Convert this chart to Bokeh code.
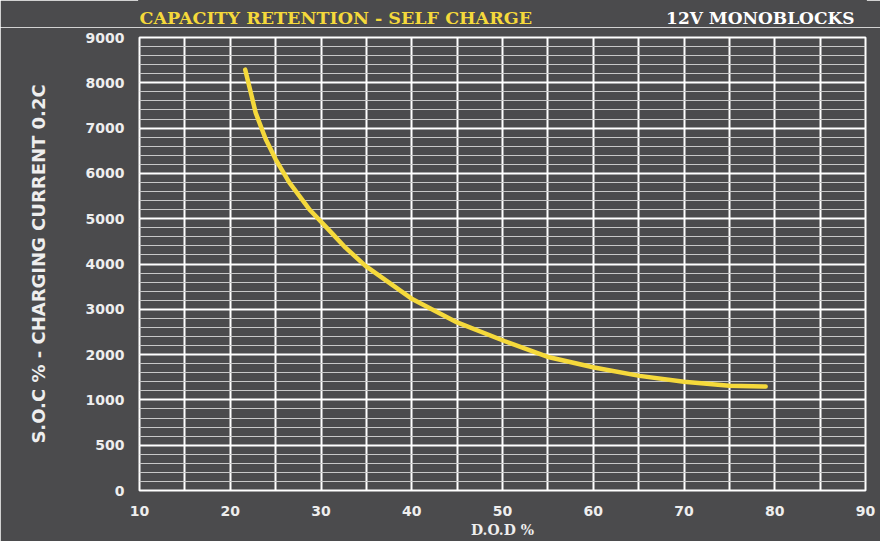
import numpy as np
from bokeh.plotting import figure
from bokeh.layouts import column
from bokeh.models import FixedTicker, Label
from bokeh.embed import file_html
from bokeh.resources import INLINE

# ---- data ----
x_ticks = [10, 20, 30, 40, 50, 60, 70, 80, 90]
x_grid = list(range(10, 91, 5))
y_tick_values = [0, 500, 1000, 2000, 3000, 4000, 5000, 6000, 7000, 8000, 9000]
y_tick_labels = ["0", "500", "1000", "2000", "3000", "4000", "5000", "6000", "7000", "8000", "9000"]

dod = [21.65, 22.8, 23.9, 25.0, 26.5, 28.7, 31.3, 32.7, 34.9, 37.5, 40.1,
       45.0, 50.2, 55.15, 60.1, 65.1, 70.0, 75.0, 79.0]
soc = [8290, 7340, 6760, 6310, 5800, 5210, 4660, 4360, 3960, 3590, 3220,
       2710, 2300, 1940, 1715, 1530, 1400, 1310, 1295]

title_left = "CAPACITY RETENTION - SELF CHARGE"
title_right = "12V MONOBLOCKS"
x_label = "D.O.D %"
y_label = "S.O.C % - CHARGING CURRENT 0.2C"

# ---- styling ----
BG = "#4b4b4d"
YELLOW = "#f5d93b"
TXT = "#eeeeee"
W = 880
HEAD_H = 27
BL, BR = 139, 15

# ---- header strip with the two titles (same horizontal frame as the chart) ----
header = figure(width=W, height=HEAD_H, output_backend="svg", toolbar_location=None,
                x_range=(10, 90), y_range=(0, HEAD_H),
                min_border_left=BL, min_border_right=BR, min_border_top=0, min_border_bottom=0,
                x_axis_location=None, y_axis_location=None)
header.background_fill_color = BG
header.border_fill_color = BG
header.outline_line_color = BG
header.outline_line_width = 3
header.grid.visible = False
header.add_layout(Label(x=10, y=HEAD_H - 17, text=title_left, text_color=YELLOW,
                        text_font="DejaVu Serif", text_font_style="bold",
                        text_font_size="17.5px", text_baseline="middle", text_align="left"))
header.add_layout(Label(x=90, x_offset=-11, y=HEAD_H - 17, text=title_right, text_color="white",
                        text_font="DejaVu Serif", text_font_style="bold",
                        text_font_size="17px", text_baseline="middle", text_align="right"))

# ---- main chart ----
# the y axis has evenly spaced ticks with non-linear labels: map values onto tick slots
tick_pos = list(range(len(y_tick_values)))
y_pos = np.interp(soc, y_tick_values, tick_pos)

p = figure(width=W, height=541 - HEAD_H, output_backend="svg", toolbar_location=None,
           x_range=(10, 90), y_range=(0, 10),
           min_border_left=BL, min_border_right=BR, min_border_top=10, min_border_bottom=51)
p.background_fill_color = BG
p.border_fill_color = BG
p.outline_line_color = "white"
p.outline_line_width = 2

p.line(dod, y_pos, line_color=YELLOW, line_width=4.5, line_cap="round", line_join="round")

p.xaxis.ticker = FixedTicker(ticks=x_ticks)
p.yaxis.ticker = FixedTicker(ticks=tick_pos, minor_ticks=[i * 0.2 for i in range(51)])
p.yaxis.major_label_overrides = {i: lab for i, lab in zip(tick_pos, y_tick_labels)}

for ax in (p.xaxis[0], p.yaxis[0]):
    ax.axis_line_color = None
    ax.major_tick_line_color = None
    ax.minor_tick_line_color = None
    ax.major_label_text_color = TXT
    ax.major_label_text_font = "DejaVu Sans"
    ax.major_label_text_font_style = "bold"
    ax.major_label_text_font_size = "14px"
    ax.axis_label_text_color = TXT
    ax.axis_label_text_font_style = "bold"

p.xaxis.major_label_standoff = 9
p.yaxis.major_label_standoff = 9
p.xaxis.axis_label = x_label
p.xaxis.axis_label_text_font = "DejaVu Serif"
p.xaxis.axis_label_text_font_size = "14px"
p.xaxis.axis_label_standoff = 3
p.yaxis.axis_label = y_label
p.yaxis.axis_label_text_font = "DejaVu Sans"
p.yaxis.axis_label_text_font_size = "18px"
p.yaxis.axis_label_standoff = 34

p.xgrid.ticker = FixedTicker(ticks=x_grid)
p.xgrid.grid_line_color = "white"
p.xgrid.grid_line_width = 2
p.ygrid.grid_line_color = "white"
p.ygrid.grid_line_width = 2
p.ygrid.minor_grid_line_color = "#c8c8c8"
p.ygrid.minor_grid_line_width = 1

layout = column(header, p, spacing=0)

open("out.html", "w").write(file_html(layout, INLINE))
